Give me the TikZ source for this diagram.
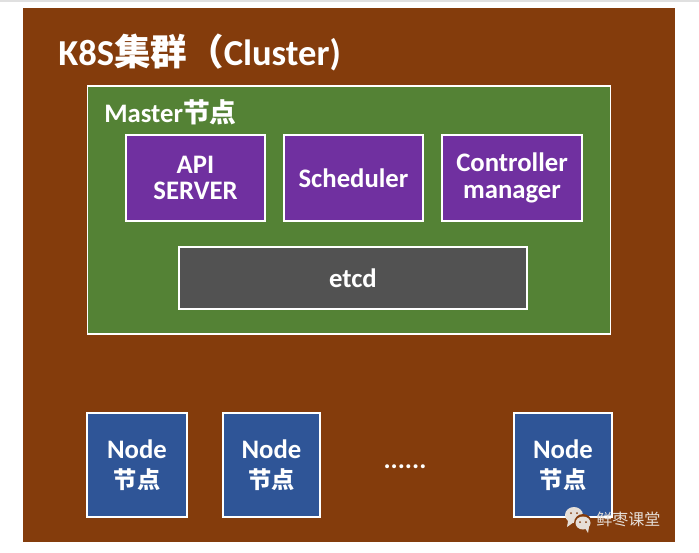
\documentclass[tikz,border=0pt]{standalone}
\usepackage{fontspec}
\setmainfont{Carlito}
\newfontfamily\cjk{Noto Sans CJK SC}
\newcommand{\nodetext}{Node\\[2.5pt]{\cjk\fontsize{16.5}{19}\selectfont 节点}}
\usetikzlibrary{positioning}
\definecolor{clusterbrown}{HTML}{843C0C}
\definecolor{mastergreen}{HTML}{548235}
\definecolor{compurple}{HTML}{7030A0}
\definecolor{etcdgray}{HTML}{525252}
\definecolor{nodeblue}{HTML}{2F5597}
\definecolor{markgray}{HTML}{E6DFD8}
\tikzset{
    panel/.style={draw=white,line width=1.3pt,inner sep=0pt,text=white,align=center,
        font=\fontsize{19}{19}\selectfont\bfseries},
    compbox/.style={panel,fill=compurple,minimum width=99pt,minimum height=61pt},
    nodebox/.style={panel,fill=nodeblue,minimum height=74pt},
    heading/.style={text=white,inner sep=0pt,anchor=west}
}
\begin{document}
\begin{tikzpicture}[x=0.025cm,y=-0.025cm]
    \useasboundingbox (0,0) rectangle (699,553);
    \fill[white] (0,0) rectangle (699,553);
    \fill[black!12] (0,0) rectangle (699,1.5);
    \fill[clusterbrown] (23,8) rectangle (675,542);

    \node[heading,font=\fontsize{26}{28}\selectfont\bfseries] (title) at (58,52) {K8S{\cjk 集群（}Cluster)};

    \node[draw=white,line width=1.3pt,fill=mastergreen,minimum width=372pt,minimum height=176pt,inner sep=0pt] (master) at (349,210) {};
    \node[heading,font=\fontsize{19}{22}\selectfont\bfseries] (mastertitle) at (104,112) {Master{\cjk 节点}};

    \node[compbox] (api) at (195.5,178) {API\\SERVER};
    \node[compbox] (scheduler) at (353.5,178) {Scheduler};
    \node[compbox] (controller) at (512,178) {Controller\\manager};
    \node[panel,fill=etcdgray,minimum width=247pt,minimum height=44pt] (etcd) at (353,278) {etcd};

    \node[nodebox,minimum width=71pt] (node1) at (137,465) {\nodetext};
    \node[nodebox,minimum width=69pt] (node2) at (271.5,465) {\nodetext};
    \node[nodebox,minimum width=70pt] (node3) at (563,465) {\nodetext};
    \node[text=white,inner sep=0pt,font=\fontsize{19}{22}\selectfont\bfseries] (dots) at (405,467) {......};

    % wechat mark
    \fill[markgray] (574,515) ellipse (9 and 8);
    \fill[markgray] (568,521) -- (567,527) -- (574,522) -- cycle;
    \fill[clusterbrown] (583,523) circle (9);
    \fill[markgray] (583,523) ellipse (7.5 and 6.5);
    \fill[markgray] (585,528) -- (588,533) -- (589,527) -- cycle;
    \fill[clusterbrown] (571,513) circle (1) (577,513) circle (1) (580,522) circle (1) (586,522) circle (1);
    \node[text=markgray,inner sep=0pt,anchor=west,font=\cjk\fontsize{11.4}{13}\selectfont] (mark) at (596,519) {鲜枣课堂};
\end{tikzpicture}
\end{document}
